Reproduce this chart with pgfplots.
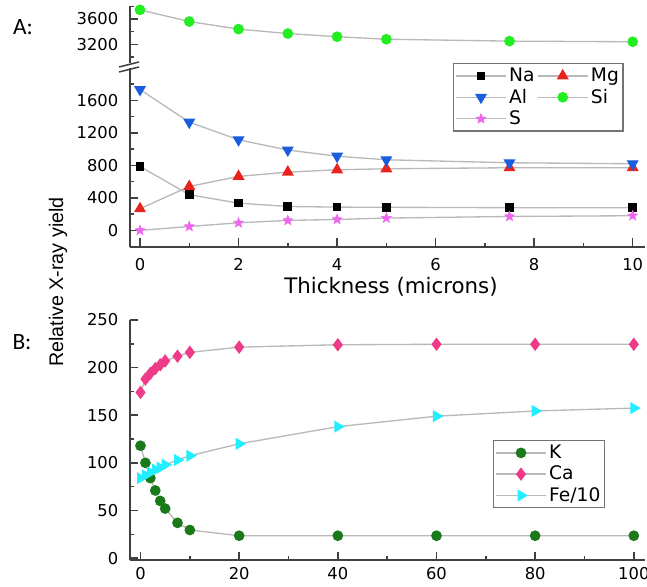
\documentclass[border=0pt]{standalone}
\usepackage{fontspec}
\setmainfont{DejaVu Sans}
\newfontfamily\arialf{Liberation Sans}
\newfontfamily\calf{Carlito}
\usepackage{pgfplots}
\pgfplotsset{compat=1.18}
\definecolor{naC}{HTML}{000000}
\definecolor{mgC}{HTML}{E8221C}
\definecolor{alC}{HTML}{1A5EE0}
\definecolor{siC}{HTML}{22EE22}
\definecolor{sC}{HTML}{EE66EE}
\definecolor{kC}{HTML}{1A7A1A}
\definecolor{caC}{HTML}{EE3A88}
\definecolor{feC}{HTML}{22EEFF}
\pgfdeclareplotmark{fstar}{%
  \pgfpathmoveto{\pgfqpointpolar{90}{\pgfplotmarksize}}%
  \pgfpathlineto{\pgfqpointpolar{126}{0.42\pgfplotmarksize}}%
  \pgfpathlineto{\pgfqpointpolar{162}{\pgfplotmarksize}}%
  \pgfpathlineto{\pgfqpointpolar{198}{0.42\pgfplotmarksize}}%
  \pgfpathlineto{\pgfqpointpolar{234}{\pgfplotmarksize}}%
  \pgfpathlineto{\pgfqpointpolar{270}{0.42\pgfplotmarksize}}%
  \pgfpathlineto{\pgfqpointpolar{306}{\pgfplotmarksize}}%
  \pgfpathlineto{\pgfqpointpolar{342}{0.42\pgfplotmarksize}}%
  \pgfpathlineto{\pgfqpointpolar{18}{\pgfplotmarksize}}%
  \pgfpathlineto{\pgfqpointpolar{54}{0.42\pgfplotmarksize}}%
  \pgfpathclose\pgfusepathqfillstroke}
\pgfplotsset{
  orig/.style={
    scale only axis, width=308.8pt, anchor=south west,
    axis x line=bottom, axis y line=left,
    axis line style={-, line width=1.1pt, black!75},
    tick align=inside, major tick length=5pt, minor tick length=2.5pt,
    every tick/.style={black!75, line width=0.9pt},
    tick label style={font=\fontsize{9.8}{11}\selectfont},
    yticklabel style={xshift=-3.5pt},
    /pgf/number format/assume math mode=true,
    /pgf/number format/1000 sep={},
    clip=false,
    legend cell align=left,
    legend style={draw=black!55, line width=0.8pt, fill=white,
      font=\fontsize{11.2}{12.6}\selectfont, inner sep=1pt,
      nodes={inner xsep=1.5pt, inner ysep=1.5pt}, column sep=0pt},
    legend image code/.code={\draw[mark repeat=2,mark phase=2] plot coordinates {(0pt,0pt) (15pt,0pt) (30pt,0pt)};},
  },
  conn/.style={gray!55, line width=0.8pt},
}
\begin{document}
\begin{tikzpicture}
\useasboundingbox (0,0) rectangle (388.2pt,351.6pt);
% ---------- Panel A, upper part ----------
\begin{axis}[orig, at={(78pt,313.8pt)}, height=34.2pt,
  xmin=-0.203, xmax=10.243, ymin=2904, ymax=3806, axis x line=none,
  ytick={3200,3600}, minor ytick={3000,3400,3800}]
\addplot[conn, mark=*, mark size=2.8pt, mark options={solid, fill=siC, draw=siC}] coordinates {
 (0,3745) (1,3560) (2,3440) (3,3370) (4,3320) (5,3280) (7.5,3250) (10,3240)};
\end{axis}
% ---------- Panel A, lower part ----------
\begin{axis}[orig, at={(78pt,203.6pt)}, height=107.2pt,
  xmin=-0.203, xmax=10.243, ymin=-200, ymax=2000,
  xtick={0,2,...,10}, minor x tick num=1,
  ytick={0,400,...,1600}, minor ytick={-200,200,600,1000,1400,1800},
  xticklabel style={yshift=-3.5pt},
  xlabel={Thickness (microns)},
  xlabel style={font=\fontsize{12.8}{14}\selectfont, at={(axis description cs:0.507,0)}, anchor=center, yshift=-24.2pt},
  legend columns=2,
  legend style={at={(axis description cs:0.6276,1.028)}, anchor=north west}]
\addplot[conn, mark=square*, mark size=2.2pt, mark options={solid, fill=naC, draw=naC}] coordinates {
 (0,788) (1,440) (2,336) (3,295) (4,287) (5,285) (7.5,280) (10,280)};
\addlegendentry{Na}
\addplot[conn, mark=triangle*, mark size=3.4pt, mark options={solid, fill=mgC, draw=mgC}] coordinates {
 (0,267) (1,541) (2,665) (3,718) (4,747) (5,759) (7.5,772) (10,772)};
\addlegendentry{Mg}
\addplot[conn, mark=triangle*, mark size=3.4pt, mark options={solid, rotate=180, fill=alC, draw=alC}] coordinates {
 (0,1735) (1,1333) (2,1116) (3,990) (4,914) (5,870) (7.5,833) (10,821)};
\addlegendentry{Al}
\addlegendimage{conn, mark=*, mark size=2.8pt, mark options={solid, fill=siC, draw=siC}}
\addlegendentry{Si}
\addplot[conn, mark=fstar, mark size=3.2pt, mark options={solid, fill=sC, draw=sC, line width=0.3pt}] coordinates {
 (0,0) (1,49) (2,94) (3,123) (4,135) (5,152) (7.5,172) (10,181)};
\addlegendentry{S}
\end{axis}
% axis break marks
\draw[black!75, line width=0.9pt] (71.4pt,311.4pt) -- (83.4pt,314.4pt);
\draw[black!75, line width=0.9pt] (71.4pt,308.4pt) -- (83.4pt,311.4pt);
% ---------- Panel B ----------
\begin{axis}[orig, at={(78pt,15.6pt)}, height=144pt,
  xmin=-2.13, xmax=102.2, ymin=-2, ymax=250,
  xtick={0,20,...,100}, minor x tick num=1,
  ytick={0,50,...,250}, minor y tick num=1,
  xticklabel style={yshift=-1pt},
  legend style={at={(axis description cs:0.7053,0.5)}, anchor=north west}]
\addplot[conn, mark=*, mark size=2.8pt, mark options={solid, fill=kC, draw=kC}] coordinates {
 (0,118) (1,100) (2,84) (3,71) (4,60) (5,52) (7.5,37) (10,29.5) (20,23.5) (40,23.5) (60,23.5) (80,23.5) (100,23.5)};
\addlegendentry{K}
\addplot[conn, mark=diamond*, mark size=3.4pt, mark options={solid, fill=caC, draw=caC}] coordinates {
 (0,174) (1,188) (2,194) (3,199) (4,203) (5,207) (7.5,212) (10,216) (20,221.5) (40,224) (60,224.5) (80,224.5) (100,224.5)};
\addlegendentry{Ca}
\addplot[conn, mark=triangle*, mark size=3.4pt, mark options={solid, rotate=-90, fill=feC, draw=feC}] coordinates {
 (0,84) (1,87) (2,90) (3,93) (4,95) (5,98) (7.5,103) (10,107.5) (20,120) (40,138) (60,149) (80,154.5) (100,157.5)};
\addlegendentry{Fe/10}
\end{axis}
% panel labels and common y label
\node[font=\calf\fontsize{14}{16}\selectfont] at (13.8pt,335.1pt) {A:};
\node[font=\calf\fontsize{14}{16}\selectfont] at (13.2pt,146.1pt) {B:};
\node[font=\arialf\fontsize{11.8}{13}\selectfont, rotate=90] at (34.8pt,182.4pt) {Relative X-ray yield};
\end{tikzpicture}
\end{document}
